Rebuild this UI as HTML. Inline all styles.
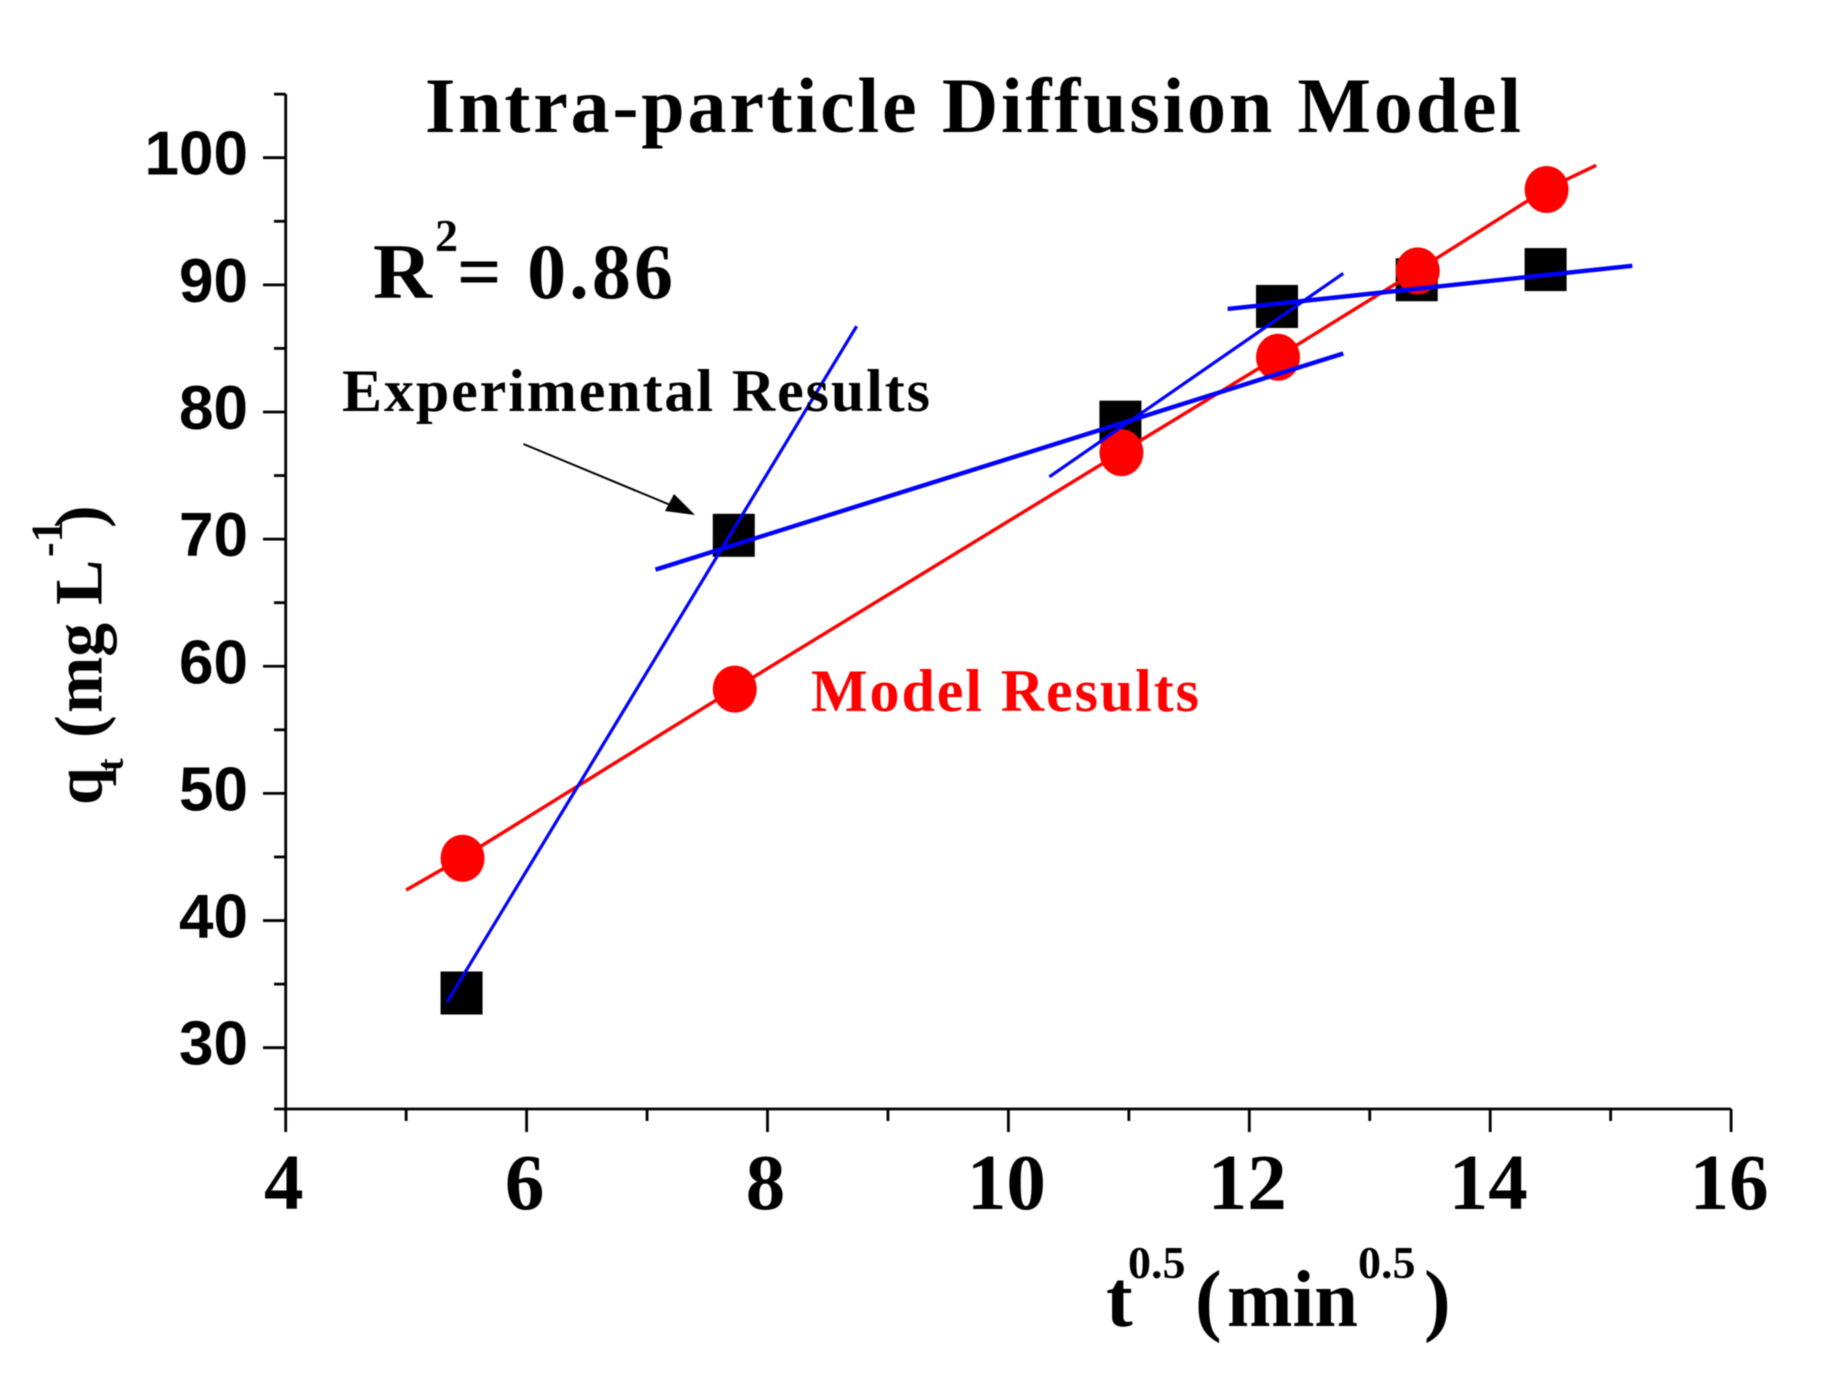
<!DOCTYPE html>
<html>
<head>
<meta charset="utf-8">
<title>Intra-particle Diffusion Model</title>
<style>
html,body{margin:0;padding:0;background:#fff;}
svg{display:block;filter:blur(0.5px);}
.serif{font-family:"Liberation Serif",serif;font-weight:bold;}
.sans{font-family:"Liberation Sans",sans-serif;font-weight:bold;}
</style>
</head>
<body>
<svg id="chart" xmlns="http://www.w3.org/2000/svg" width="1838" height="1392" viewBox="0 0 1838 1392">
  <rect x="0" y="0" width="1838" height="1392" fill="#fff"/>
  <text class="serif" x="425" y="132" font-size="78" fill="#000" textLength="1096" lengthAdjust="spacing">Intra-particle Diffusion Model</text>
  <g id="axes"></g>
  <g id="marks"></g>

  <g class="serif" fill="#000">
    <text x="373" y="298" font-size="78" textLength="59" lengthAdjust="spacingAndGlyphs">R</text>
    <text x="435" y="251" font-size="46">2</text>
    <text x="457" y="298" font-size="78" textLength="216" lengthAdjust="spacing">= 0.86</text>
  </g>

  <text class="serif" x="342" y="411" font-size="60" fill="#000" textLength="588" lengthAdjust="spacing">Experimental Results</text>
  <text class="serif" x="811" y="711" font-size="60" fill="#f00" textLength="388" lengthAdjust="spacing">Model Results</text>

  <g>
    <line x1="523.4" y1="444" x2="680" y2="509" stroke="#000" stroke-width="2"/>
    <polygon points="695,515 665,511 674,494" fill="#000"/>
  </g>

  <g class="serif" fill="#000" clip-path="url(#xTitleClip)">
    <text x="1106" y="1326" font-size="80">t</text>
    <text x="1128" y="1278" font-size="46">0.5</text>
    <text x="1195" y="1326" font-size="80">(</text>
    <text x="1227" y="1326" font-size="80" textLength="131" lengthAdjust="spacingAndGlyphs">min</text>
    <text x="1358" y="1278" font-size="46">0.5</text>
    <text x="1424" y="1326" font-size="80">)</text>
  </g>
  <defs>
    <clipPath id="xTitleClip"><rect x="1090" y="1230" width="380" height="113"/></clipPath>
  </defs>

  <g class="serif" fill="#000" transform="translate(101.7,805) rotate(-90)">
    <text x="0" y="0" font-size="68">q</text>
    <text x="34" y="21" font-size="38">t</text>
    <text x="67" y="0" font-size="68">(</text>
    <text x="92" y="0" font-size="70" textLength="90" lengthAdjust="spacingAndGlyphs">mg</text>
    <text x="200" y="0" font-size="68">L</text>
    <text x="248" y="-40" font-size="44">-1</text>
    <text x="277" y="0" font-size="68">)</text>
  </g>
</svg>

<script>
// Chart data, in axis units
const xMajorTicks = [4, 6, 8, 10, 12, 14, 16];
const xMinorTicks = [5, 7, 9, 11, 13, 15];
const yMajorTicks = [30, 40, 50, 60, 70, 80, 90, 100];
const yMinorTicks = [35, 45, 55, 65, 75, 85, 95, 105];
const xTickLabels = ['4', '6', '8', '10', '12', '14', '16'];
const yTickLabels = ['30', '40', '50', '60', '70', '80', '90', '100'];

const sampleX = [5.46, 7.72, 10.93, 12.23, 13.39, 14.46];
const experimentalQ = [34.3, 70.3, 79.2, 88.3, 90.4, 91.2];
const modelQ = [44.9, 58.2, 76.8, 84.3, 91.1, 97.5];

const modelLineX = [5.0, 5.46, 7.72, 10.93, 12.23, 13.39, 14.46, 14.88];
const modelLineQ = [42.4, 44.9, 58.2, 76.8, 84.3, 91.1, 97.5, 99.4];

const fitOneX = [5.34, 8.74];
const fitOneQ = [33.6, 86.75];
const fitTwoX = [7.07, 12.78];
const fitTwoQ = [67.6, 84.6];
const fitThreeX = [10.34, 12.78];
const fitThreeQ = [74.9, 90.9];
const fitFourX = [11.82, 15.18];
const fitFourQ = [88.1, 91.5];

const SVG_NS = 'http://www.w3.org/2000/svg';
const axesGroup = document.getElementById('axes');
const marksGroup = document.getElementById('marks');

function xScale(v) { return 285.7 + (v - 4) * 120.45; }
function yScale(v) { return 157.7 + (100 - v) * 12.714; }

function make(tag, parent, props) {
  const node = document.createElementNS(SVG_NS, tag);
  Object.keys(props).forEach(function (key) { node.setAttribute(key, props[key]); });
  parent.appendChild(node);
  return node;
}

const axisBottom = 1109;
const axisStroke = 2.8;

let el = make('line', axesGroup, { x1: xScale(4), y1: yScale(105), x2: xScale(4), y2: axisBottom, stroke: '#000', 'stroke-width': axisStroke });



el = make('line', axesGroup, { x1: 274, y1: axisBottom, x2: xScale(16), y2: axisBottom, stroke: '#000', 'stroke-width': axisStroke });



yMajorTicks.forEach(function (v, i) {
  const tick = make('line', axesGroup, { x1: 263, y1: yScale(v), x2: xScale(4), y2: yScale(v), stroke: '#000', 'stroke-width': axisStroke });
  
  
  const label = make('text', axesGroup, { x: 248, y: yScale(v) + 17, 'text-anchor': 'end', 'font-size': 62, class: 'sans', fill: '#000' });
  label.textContent = yTickLabels[i];
  
  
});

yMinorTicks.forEach(function (v) {
  const tick = make('line', axesGroup, { x1: 274, y1: yScale(v), x2: xScale(4), y2: yScale(v), stroke: '#000', 'stroke-width': axisStroke });
  
  
});

xMajorTicks.forEach(function (v, i) {
  const tick = make('line', axesGroup, { x1: xScale(v), y1: axisBottom, x2: xScale(v), y2: 1132, stroke: '#000', 'stroke-width': axisStroke });
  
  
  const label = make('text', axesGroup, { x: xScale(v) - 2, y: 1209, 'text-anchor': 'middle', 'font-size': 79, class: 'serif', fill: '#000' });
  label.textContent = xTickLabels[i];
  
  
});

xMinorTicks.forEach(function (v) {
  const tick = make('line', axesGroup, { x1: xScale(v), y1: axisBottom, x2: xScale(v), y2: 1121, stroke: '#000', 'stroke-width': axisStroke });
  
  
});

function toPoints(xs, ys) {
  return xs.map(function (x, i) { return xScale(x) + ',' + yScale(ys[i]); }).join(' ');
}

sampleX.forEach(function (x, i) {
  const square = make('rect', marksGroup, { x: xScale(x) - 21, y: yScale(experimentalQ[i]) - 21.5, width: 42, height: 43, fill: '#000' });
  
  
});

el = make('polyline', marksGroup, { points: toPoints(modelLineX, modelLineQ), fill: 'none', stroke: '#f00', 'stroke-width': 3.4 });



sampleX.forEach(function (x, i) {
  const circle = make('ellipse', marksGroup, { cx: xScale(x) + 1, cy: yScale(modelQ[i]), rx: 22, ry: 23.5, fill: '#f00' });
  
  
});

el = make('polyline', marksGroup, { points: toPoints(fitOneX, fitOneQ), fill: 'none', stroke: '#00f', 'stroke-width': 3.2 });



el = make('polyline', marksGroup, { points: toPoints(fitTwoX, fitTwoQ), fill: 'none', stroke: '#00f', 'stroke-width': 4.4 });



el = make('polyline', marksGroup, { points: toPoints(fitThreeX, fitThreeQ), fill: 'none', stroke: '#00f', 'stroke-width': 3.2 });



el = make('polyline', marksGroup, { points: toPoints(fitFourX, fitFourQ), fill: 'none', stroke: '#00f', 'stroke-width': 4.4 });


</script>
</body>
</html>
